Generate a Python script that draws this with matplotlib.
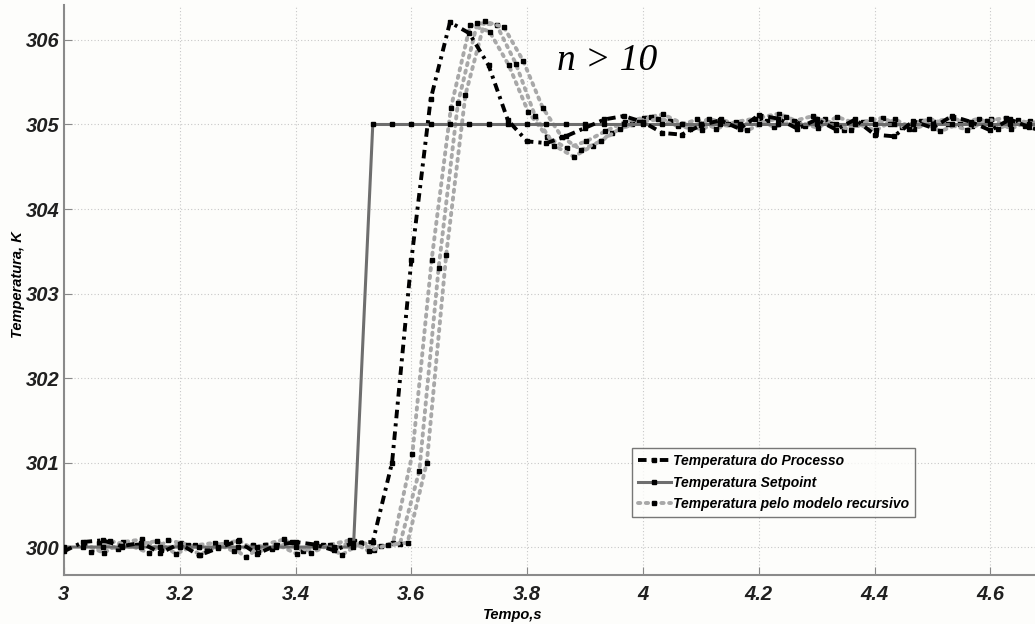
import numpy as np
import matplotlib
matplotlib.use("Agg")
import matplotlib.pyplot as plt

# sample times (30 Hz acquisition) for the process / setpoint
t_proc = np.array([3.0 + k / 30.0 for k in range(52)])

setpoint = [300.0] * 16 + [305.0] * 36

processo = [299.95, 300.06, 300.08, 300.01, 300.05, 299.93, 300.04, 299.90,
            299.99, 300.07, 299.92, 300.02, 300.06, 300.03, 299.96, 300.05,
            300.06, 301.00, 303.40, 305.30, 306.21, 306.08, 305.70, 305.05,
            304.80, 304.78, 304.86, 304.96, 305.06, 305.10, 305.03, 304.90,
            304.88, 304.99, 305.05, 304.95, 305.11, 305.07, 304.95, 305.06,
            304.94, 305.06, 304.88, 304.86, 305.04, 304.96, 305.10, 305.03,
            304.93, 305.06, 304.97, 304.90]

# recursive model, three runs (n > 10), each lagging the process a little
lag_modelo = [0.035, 0.047, 0.060]

modelo_1 = [300.04, 299.93, 300.06, 300.09, 299.96, 300.05, 299.91, 300.02,
            300.08, 299.94, 300.03, 299.92, 300.05, 299.99, 300.07, 299.97,
            300.05, 301.10, 303.40, 305.20, 306.18, 306.10, 305.70, 305.15,
            304.85, 304.72, 304.80, 304.92, 305.03, 305.08, 305.12, 305.01,
            304.94, 305.06, 304.98, 305.08, 305.13, 305.03, 304.96, 305.09,
            305.01, 304.93, 305.06, 304.95, 305.03, 305.08, 304.98, 305.07,
            304.95, 305.04, 304.98, 305.03]

modelo_2 = [299.94, 300.07, 300.02, 299.93, 300.08, 300.03, 299.96, 300.06,
            299.88, 300.03, 300.09, 299.95, 300.02, 299.91, 300.05, 300.01,
            300.04, 300.90, 303.30, 305.25, 306.20, 306.18, 305.72, 305.10,
            304.75, 304.62, 304.75, 304.90, 305.00, 305.09, 305.04, 304.95,
            305.07, 305.00, 304.93, 305.04, 305.09, 304.98, 305.06, 304.94,
            305.03, 305.08, 304.97, 305.04, 304.92, 305.01, 305.07, 304.95,
            305.05, 305.00, 304.94, 305.03]

modelo_3 = [300.05, 299.98, 300.03, 300.07, 299.92, 300.02, 300.05, 299.95,
            300.03, 299.98, 300.06, 299.93, 300.03, 300.08, 299.95, 300.03,
            300.05, 301.00, 303.45, 305.35, 306.22, 306.15, 305.75, 305.20,
            304.85, 304.70, 304.80, 304.95, 305.03, 305.06, 304.98, 305.06,
            304.95, 305.03, 305.07, 304.97, 305.04, 305.10, 305.00, 304.94,
            305.06, 305.01, 304.95, 305.07, 305.00, 304.94, 305.04, 305.08,
            304.98, 305.03, 304.96, 305.02]

xticks = [3, 3.2, 3.4, 3.6, 3.8, 4, 4.2, 4.4, 4.6]
xtick_labels = ["3", "3.2", "3.4", "3.6", "3.8", "4", "4.2", "4.4", "4.6"]
yticks = [300, 301, 302, 303, 304, 305, 306]

plt.rcParams['font.family'] = ['Liberation Sans', 'DejaVu Sans']

fig = plt.figure(figsize=(10.35, 6.24), dpi=100, facecolor="#fdfdfb")
ax = fig.add_axes([0.0618, 0.0785, 0.9382, 0.9135])
ax.set_facecolor("#fdfdfb")

mk = dict(marker="s", markersize=2.8, markerfacecolor="black",
          markeredgecolor="black")

for i, (lag, vals) in enumerate(zip(lag_modelo, [modelo_1, modelo_2, modelo_3])):
  ax.plot(t_proc + lag, vals, linestyle=(0, (0.6, 1.4)), color="#a8a8a8",
          linewidth=2.8, dash_capstyle="round", zorder=2,
          label="Temperatura pelo modelo recursivo" if i == 0 else None, **mk)

ax.plot(t_proc, setpoint, "-", color="#6e6e6e", linewidth=2.2, zorder=3,
        label="Temperatura Setpoint", **mk)

ax.plot(t_proc, processo, linestyle=(0, (2.2, 1.3, 0.8, 1.3)), color="black",
        linewidth=2.8, zorder=4, label="Temperatura do Processo", **mk)

ax.set_xlim(3.0, 4.677)
ax.set_ylim(299.669, 306.414)
ax.set_xticks(xticks)
ax.set_xticklabels(xtick_labels)
ax.set_yticks(yticks)

ax.grid(True, linestyle=(0, (1, 2)), color="#c8c8c8", linewidth=0.8)
ax.tick_params(direction="in", length=6, color="#888888", labelsize=14.5)
ax.tick_params(axis="y", pad=3)
ax.tick_params(axis="x", pad=7)
for lab in ax.get_xticklabels() + ax.get_yticklabels():
  lab.set_fontweight("bold")
  lab.set_fontstyle("italic")
  lab.set_color("#202020")

for s in ["top", "right"]:
  ax.spines[s].set_visible(False)
for s in ["left", "bottom"]:
  ax.spines[s].set_color("#8a8a8a")
  ax.spines[s].set_linewidth(1.5)

ax.set_xlabel("Tempo,s", fontsize=10.5, fontweight="bold", fontstyle="italic")
ax.xaxis.set_label_coords(0.462, -0.058)
ax.set_ylabel("Temperatura, K", fontsize=10.5, fontweight="bold",
              fontstyle="italic")
ax.yaxis.set_label_coords(-0.040, 0.509)

ax.text(0.508, 0.902, "n > 10", transform=ax.transAxes, fontsize=27,
        family="Liberation Serif", fontstyle="italic", ha="left", va="center")

handles, labels = ax.get_legend_handles_labels()
order = [2, 1, 0]
leg = ax.legend([handles[i] for i in order], [labels[i] for i in order],
                loc="lower left", bbox_to_anchor=(0.585, 0.102),
                prop=dict(weight="bold", style="italic", size=10),
                frameon=True, fancybox=False, shadow=False, handlelength=2.4,
                labelspacing=0.55, borderpad=0.4, handletextpad=0.15,
                borderaxespad=0)
leg.get_frame().set_edgecolor("#555555")
leg.get_frame().set_linewidth(1.0)
leg.get_frame().set_facecolor("#fdfdfb")

plt.savefig("out.png", dpi=100, facecolor=fig.get_facecolor())
